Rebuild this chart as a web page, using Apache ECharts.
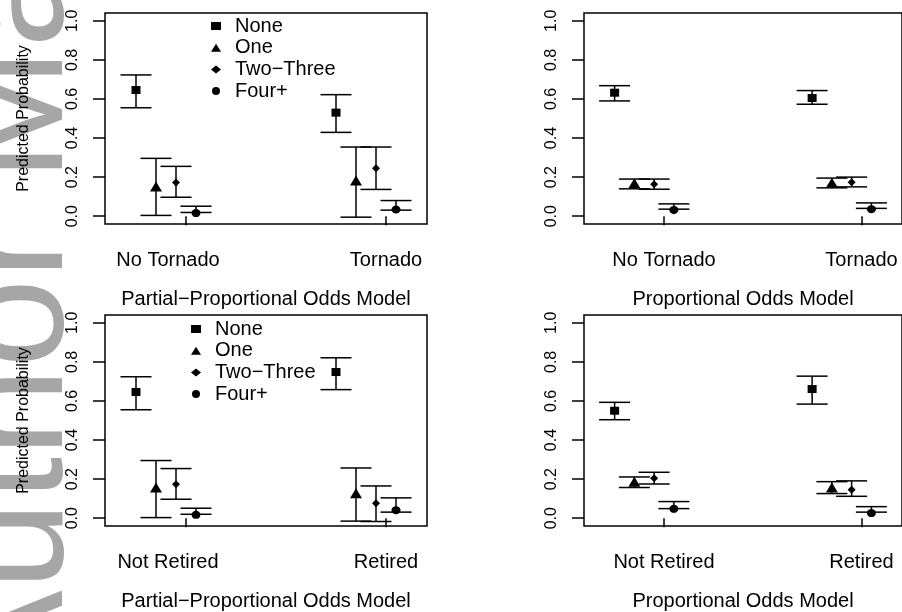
<!DOCTYPE html>
<html>
<head>
<meta charset="utf-8">
<script src="https://cdn.jsdelivr.net/npm/echarts@6/dist/echarts.min.js"></script>
<style>
html,body{margin:0;padding:0;background:#fff;}
#chart{width:902px;height:612px;}
</style>
</head>
<body>
<div id="chart"></div>
<script>
// ---------- data ----------
const groups = ['None', 'One', 'Two\u2212Three', 'Four+'];
const groupOffsets = [-0.25, -0.15, -0.05, 0.05];
const categoryPositions = [1, 2];
const tornadoCategories = ['No Tornado', 'Tornado'];
const retiredCategories = ['Not Retired', 'Retired'];
const panelTitles = ['Partial\u2212Proportional Odds Model', 'Proportional Odds Model'];
const yTickValues = [0, 0.2, 0.4, 0.6, 0.8, 1.0];
const yAxisTitle = 'Predicted Probability';
const watermarkText = 'Author Manuscript';

// values indexed [category][group]
const tornadoPPOEst  = [[0.646, 0.152, 0.173, 0.016], [0.530, 0.183, 0.245, 0.034]];
const tornadoPPOLow  = [[0.555, 0.004, 0.097, 0.019], [0.429, -0.005, 0.137, 0.031]];
const tornadoPPOHigh = [[0.723, 0.296, 0.255, 0.051], [0.622, 0.354, 0.354, 0.080]];

const tornadoPOEst  = [[0.632, 0.168, 0.164, 0.032], [0.605, 0.171, 0.174, 0.036]];
const tornadoPOLow  = [[0.590, 0.140, 0.138, 0.036], [0.573, 0.145, 0.150, 0.040]];
const tornadoPOHigh = [[0.668, 0.190, 0.190, 0.063], [0.643, 0.195, 0.200, 0.068]];

const retiredPPOEst  = [[0.646, 0.157, 0.174, 0.017], [0.748, 0.128, 0.077, 0.041]];
const retiredPPOLow  = [[0.555, 0.003, 0.097, 0.020], [0.658, -0.015, -0.017, 0.031]];
const retiredPPOHigh = [[0.724, 0.295, 0.254, 0.051], [0.821, 0.257, 0.165, 0.104]];

const retiredPOEst  = [[0.550, 0.187, 0.204, 0.048], [0.661, 0.157, 0.145, 0.026]];
const retiredPOLow  = [[0.504, 0.157, 0.175, 0.049], [0.584, 0.126, 0.112, 0.031]];
const retiredPOHigh = [[0.593, 0.211, 0.235, 0.085], [0.727, 0.187, 0.191, 0.059]];

// ---------- styling ----------
const FONT = 'Liberation Sans';
const symbols = ['rect', 'triangle', 'diamond', 'circle'];
const symbolSizes = [[9, 8], [12, 10], [8, 8], [9, 8]];
const grids = [
  {left: 105, top: 13, width: 322, height: 211},
  {left: 584, top: 13, width: 322, height: 211},
  {left: 105, top: 315, width: 322, height: 211},
  {left: 584, top: 315, width: 322, height: 211}
];
const panels = [
  {cats: tornadoCategories, title: panelTitles[0], est: tornadoPPOEst, low: tornadoPPOLow, high: tornadoPPOHigh, left: true},
  {cats: tornadoCategories, title: panelTitles[1], est: tornadoPOEst, low: tornadoPOLow, high: tornadoPOHigh, left: false},
  {cats: retiredCategories, title: panelTitles[0], est: retiredPPOEst, low: retiredPPOLow, high: retiredPPOHigh, left: true},
  {cats: retiredCategories, title: panelTitles[1], est: retiredPOEst, low: retiredPOLow, high: retiredPOHigh, left: false}
];

const xAxes = [], yAxes = [], series = [];
panels.forEach((p, i) => {
  xAxes.push({
    type: 'value', gridIndex: i, min: 0.595, max: 2.205,
    axisLine: {show: false}, splitLine: {show: false},
    axisTick: {show: true, customValues: categoryPositions, length: 9, lineStyle: {color: '#000', width: 1.5}},
    axisLabel: {
      customValues: categoryPositions, margin: 26, fontSize: 20, fontFamily: FONT, color: '#000',
      formatter: function (v) {
        const k = categoryPositions.indexOf(Math.round(v));
        const t = p.cats[k];
        return (p.left && k === 0) ? '{s|' + t + '}' : t;
      },
      rich: {s: {padding: [0, 36, 0, 0], fontSize: 20, fontFamily: FONT, color: '#000'}}
    },
    name: p.title, nameLocation: 'middle', nameGap: 65,
    nameTextStyle: {fontSize: 20, fontFamily: FONT, color: '#000'}
  });
  yAxes.push({
    type: 'value', gridIndex: i, min: -0.04, max: 1.04,
    axisLine: {show: false}, splitLine: {show: false},
    axisTick: {show: true, customValues: yTickValues, length: 12, lineStyle: {color: '#000', width: 1.5}},
    axisLabel: {customValues: yTickValues, rotate: 90, margin: 24, fontSize: 16, fontFamily: FONT, color: '#000',
      formatter: v => v.toFixed(1)},
    name: p.left ? yAxisTitle : '', nameLocation: 'middle', nameGap: 73,
    nameTextStyle: {fontSize: 16, fontFamily: FONT, color: '#000'}
  });
  // error bars
  const barData = [];
  categoryPositions.forEach((c, ci) => {
    groups.forEach((g, gi) => {
      barData.push([c + groupOffsets[gi], p.low[ci][gi], p.high[ci][gi]]);
    });
  });
  series.push({
    type: 'custom', xAxisIndex: i, yAxisIndex: i, clip: false, silent: true, z: 2,
    data: barData, encode: {x: 0, y: [1, 2]},
    renderItem: function (params, api) {
      const x = api.value(0);
      const a = api.coord([x, api.value(1)]);
      const b = api.coord([x, api.value(2)]);
      const hw = 15.5;
      const st = {stroke: '#000', lineWidth: 1.5};
      return {type: 'group', children: [
        {type: 'line', shape: {x1: a[0], y1: a[1], x2: b[0], y2: b[1]}, style: st},
        {type: 'line', shape: {x1: a[0] - hw, y1: a[1], x2: a[0] + hw, y2: a[1]}, style: st},
        {type: 'line', shape: {x1: b[0] - hw, y1: b[1], x2: b[0] + hw, y2: b[1]}, style: st}
      ]};
    }
  });
  groups.forEach((g, gi) => {
    series.push({
      name: g, type: 'scatter', xAxisIndex: i, yAxisIndex: i, z: 3, silent: true,
      symbol: symbols[gi], symbolSize: symbolSizes[gi],
      itemStyle: {color: '#000', opacity: 1},
      data: categoryPositions.map((c, ci) => [c + groupOffsets[gi], p.est[ci][gi]])
    });
  });
});

function makeLegend(left, top) {
  return {
    orient: 'vertical', left: left, top: top, padding: 0, itemGap: 0.7,
    itemWidth: 10, itemHeight: 8, selectedMode: false,
    data: groups.map((g, gi) => ({name: g, icon: symbols[gi], itemStyle: {color: '#000'}})),
    textStyle: {fontSize: 20, fontFamily: FONT, color: '#000', lineHeight: 21, padding: [0, 0, 0, 9]}
  };
}

const chart = echarts.init(document.getElementById('chart'), null, {renderer: 'canvas'});
chart.setOption({
  animation: false,
  backgroundColor: '#fff',
  grid: grids.map(g => Object.assign({show: true, borderColor: '#000', borderWidth: 1.5, backgroundColor: 'transparent', containLabel: false}, g)),
  xAxis: xAxes,
  yAxis: yAxes,
  legend: [makeLegend(211, 15.5), makeLegend(191, 318.5)],
  graphic: [{
    type: 'text', x: 18, y: 697, rotation: Math.PI / 2, z: -100, silent: true,
    style: {text: watermarkText, fill: '#a6a6a6', font: '160px "Liberation Sans"', align: 'left', verticalAlign: 'middle'}
  }],
  series: series
});
</script>
</body>
</html>
